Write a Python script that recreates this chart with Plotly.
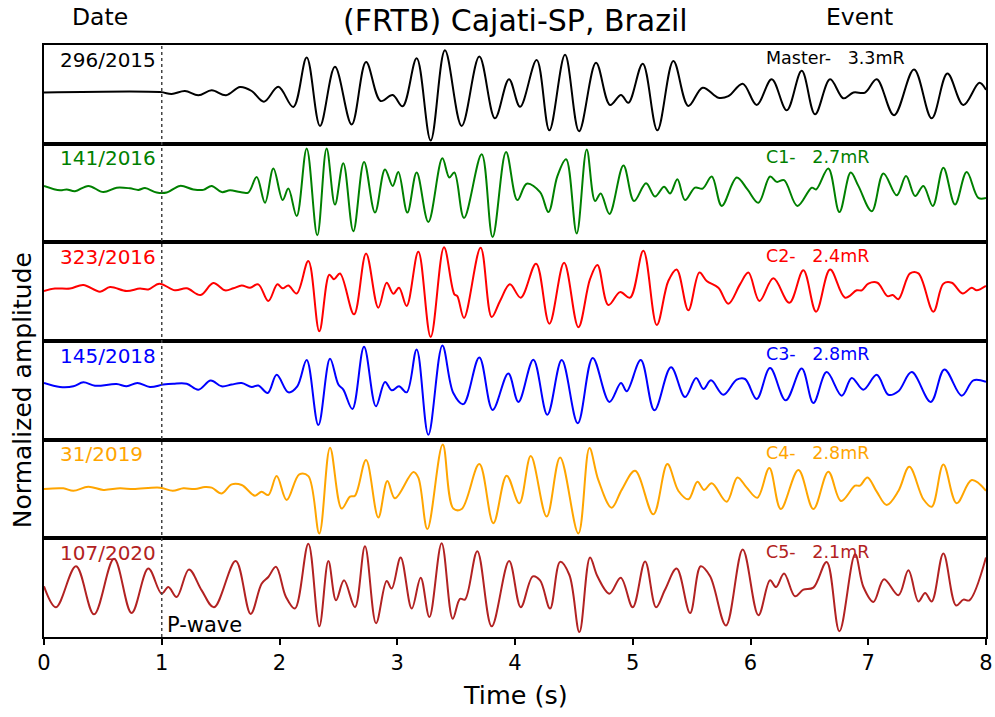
import plotly.graph_objects as go
from plotly.subplots import make_subplots

# picked peaks/troughs (time in s, normalized amplitude per panel)
master_t = [0.0, 0.985, 1.084, 1.197, 1.311, 1.424, 1.546, 1.665, 1.764, 1.868, 1.99, 2.117, 2.231, 2.344,
            2.471, 2.613, 2.735, 2.859, 2.961, 3.046, 3.165, 3.284, 3.405, 3.547, 3.697, 3.83, 3.949, 4.043,
            4.184, 4.292, 4.425, 4.544, 4.688, 4.807, 4.9, 4.963, 5.085, 5.209, 5.345, 5.472, 5.594, 5.727,
            5.812, 5.934, 6.053, 6.18, 6.308, 6.435, 6.548, 6.676, 6.789, 6.874, 6.973, 7.072, 7.219, 7.389,
            7.539, 7.672, 7.808, 7.944, 8.0]
master_a = [0.04, 0.05, 0.01, 0.075, -0.02, 0.09, -0.02, 0.165, 0.075, -0.165, 0.17, -0.285, 0.83, -0.71,
            0.62, -0.68, 0.73, -0.15, -0.015, -0.27, 0.81, -1.04, 0.99, -0.71, 0.85, -0.54, 0.34, -0.28,
            0.77, -0.81, 0.89, -0.83, 0.71, -0.24, -0.015, -0.19, 0.69, -0.81, 0.75, -0.26, 0.15, -0.075,
            -0.04, 0.24, -0.24, 0.34, -0.36, 0.53, -0.45, 0.34, -0.09, 0.04, 0.04, 0.34, -0.47, 0.56,
            -0.54, 0.47, -0.24, 0.26, 0.1]

c1_t = [0.0, 0.136, 0.193, 0.263, 0.377, 0.504, 0.617, 0.73, 0.801, 0.858, 0.957, 1.042, 1.155, 1.268,
        1.353, 1.424, 1.509, 1.58, 1.665, 1.735, 1.806, 1.877, 1.948, 2.027, 2.075, 2.146, 2.231, 2.321,
        2.4, 2.471, 2.542, 2.627, 2.718, 2.811, 2.896, 2.961, 3.009, 3.086, 3.165, 3.264, 3.383, 3.442,
        3.485, 3.567, 3.717, 3.81, 3.924, 4.02, 4.1, 4.213, 4.284, 4.36, 4.434, 4.524, 4.609, 4.68,
        4.728, 4.802, 4.921, 5.011, 5.113, 5.189, 5.266, 5.317, 5.379, 5.444, 5.529, 5.594, 5.671, 5.756,
        5.883, 5.974, 6.067, 6.166, 6.223, 6.285, 6.398, 6.52, 6.557, 6.661, 6.755, 6.851, 6.916, 7.03,
        7.129, 7.242, 7.321, 7.398, 7.468, 7.548, 7.638, 7.737, 7.836, 7.935, 8.0]
c1_a = [0.16, 0.06, 0.08, 0.04, 0.16, 0.02, 0.12, 0.105, 0.07, 0.11, 0.01, 0.01, 0.16, 0.08,
        0.07, 0.16, 0.02, 0.06, 0.02, 0.01, 0.36, -0.22, 0.55, -0.16, 0.10, -0.52, 1.0, -0.95,
        1.0, -0.26, 0.67, -0.86, 0.70, -0.44, 0.53, 0.16, 0.47, -0.44, 0.46, -0.65, 0.78, 0.35,
        0.46, -0.56, 0.87, -0.99, 0.92, -0.16, 0.21, 0.02, -0.43, 0.38, 0.76, -0.91, 0.98, -0.18,
        -0.01, -0.47, 0.62, -0.18, 0.22, -0.08, 0.14, -0.01, 0.31, -0.16, 0.12, 0.10, 0.37, -0.29,
        0.35, 0.08, -0.22, 0.37, 0.25, 0.29, -0.29, 0.12, 0.08, 0.55, -0.43, 0.46, 0.16, -0.41,
        0.44, -0.05, 0.38, -0.07, 0.16, -0.29, 0.57, -0.26, 0.47, -0.11, -0.11]

c2_t = [0.0, 0.093, 0.221, 0.334, 0.476, 0.561, 0.702, 0.815, 0.886, 0.979, 1.113, 1.212, 1.33, 1.438,
        1.537, 1.608, 1.679, 1.75, 1.82, 1.905, 1.982, 2.027, 2.075, 2.146, 2.245, 2.338, 2.423, 2.463,
        2.514, 2.633, 2.735, 2.839, 2.91, 2.967, 3.015, 3.08, 3.179, 3.284, 3.397, 3.485, 3.51, 3.567,
        3.708, 3.802, 3.873, 3.957, 4.049, 4.179, 4.292, 4.417, 4.538, 4.637, 4.7, 4.793, 4.892, 4.977,
        5.09, 5.204, 5.302, 5.373, 5.472, 5.566, 5.628, 5.727, 5.812, 5.911, 5.982, 6.076, 6.194, 6.33,
        6.449, 6.557, 6.676, 6.803, 6.902, 6.945, 7.001, 7.078, 7.163, 7.208, 7.256, 7.355, 7.426, 7.553,
        7.638, 7.709, 7.802, 7.879, 7.921, 8.0]
c2_a = [0.015, 0.07, 0.07, 0.15, 0.0, 0.105, 0.015, 0.07, 0.05, 0.18, 0.03, 0.075, -0.075, 0.195,
        0.03, 0.075, 0.14, 0.09, 0.165, -0.21, 0.165, 0.075, 0.14, -0.04, 0.69, -0.89, 0.38, 0.28,
        0.41, -0.51, 0.86, -0.36, 0.2, -0.045, 0.09, -0.32, 0.9, -1.02, 1.0, -0.06, -0.1, -0.59,
        0.99, -0.57, -0.21, 0.165, -0.135, 0.63, -0.72, 0.65, -0.80, 0.28, 0.60, -0.30, -0.01, -0.135,
        0.92, -0.75, 0.24, 0.50, -0.42, 0.43, 0.24, 0.09, -0.27, 0.165, 0.43, -0.21, 0.30, -0.25,
        0.48, -0.45, 0.50, -0.135, 0.03, 0.03, 0.18, 0.2, -0.1, -0.075, -0.17, 0.41, 0.41, -0.45,
        0.18, 0.2, -0.04, 0.09, 0.03, 0.13]

c3_t = [0.0, 0.136, 0.25, 0.334, 0.433, 0.617, 0.702, 0.793, 0.9, 1.013, 1.098, 1.212, 1.311, 1.416,
        1.509, 1.594, 1.679, 1.764, 1.82, 1.9, 1.976, 2.075, 2.151, 2.231, 2.33, 2.429, 2.5, 2.542,
        2.619, 2.718, 2.819, 2.896, 2.953, 3.015, 3.08, 3.165, 3.264, 3.383, 3.476, 3.561, 3.697, 3.81,
        3.943, 4.029, 4.156, 4.275, 4.397, 4.533, 4.66, 4.802, 4.9, 4.949, 5.068, 5.184, 5.325, 5.444,
        5.538, 5.6, 5.665, 5.77, 5.883, 5.954, 6.053, 6.166, 6.299, 6.435, 6.534, 6.647, 6.775, 6.86,
        6.959, 7.072, 7.171, 7.256, 7.369, 7.531, 7.647, 7.794, 7.893, 8.0]
c3_a = [0.165, 0.075, 0.09, 0.18, 0.105, 0.14, 0.09, 0.165, 0.075, 0.13, 0.15, 0.15, 0.015, 0.22,
        0.09, 0.13, 0.165, 0.075, 0.11, -0.06, 0.35, -0.045, 0.09, 0.68, -0.78, 0.71, 0.13, 0.015,
        -0.42, 0.98, -0.36, 0.19, 0.0, 0.09, -0.045, 0.92, -1.0, 1.01, -0.06, -0.31, 0.74, -0.44,
        0.38, -0.26, 0.69, -0.55, 0.68, -0.74, 0.73, -0.26, 0.165, -0.02, 0.68, -0.45, 0.52, -0.15,
        0.28, 0.03, 0.225, -0.1, 0.24, 0.255, -0.195, 0.50, -0.225, 0.49, -0.285, 0.41, -0.12, 0.28,
        0.015, 0.35, -0.1, -0.02, 0.41, -0.26, 0.47, -0.12, 0.225, 0.19]

c4_t = [0.0, 0.164, 0.249, 0.376, 0.504, 0.645, 0.759, 0.985, 1.093, 1.183, 1.282, 1.367, 1.424, 1.509,
        1.594, 1.679, 1.792, 1.848, 1.905, 1.976, 2.061, 2.168, 2.245, 2.338, 2.429, 2.528, 2.599, 2.641,
        2.735, 2.839, 2.916, 2.981, 3.137, 3.179, 3.256, 3.386, 3.476, 3.547, 3.697, 3.816, 3.929, 4.037,
        4.134, 4.269, 4.383, 4.538, 4.632, 4.708, 4.821, 4.906, 5.02, 5.175, 5.294, 5.388, 5.473, 5.549,
        5.606, 5.671, 5.798, 5.889, 5.968, 6.058, 6.16, 6.257, 6.407, 6.534, 6.661, 6.769, 6.888, 6.93,
        6.993, 7.072, 7.157, 7.256, 7.349, 7.468, 7.539, 7.638, 7.751, 7.879, 8.0]
c4_a = [0.0, 0.015, -0.04, 0.05, -0.02, 0.015, 0.0, 0.03, -0.04, 0.015, 0.0, 0.045, 0.03, -0.1,
        0.105, 0.09, -0.15, -0.06, -0.135, 0.29, -0.25, 0.33, 0.29, -1.0, 0.93, -0.44, -0.17, -0.15,
        0.65, -0.64, 0.18, -0.21, 0.38, 0.255, -0.90, 1.0, -0.44, -0.45, 0.56, -0.77, 0.30, -0.32,
        0.74, -0.62, 0.71, -1.0, 0.92, 0.2, -0.42, -0.02, 0.41, -0.57, 0.56, -0.045, -0.23, 0.165,
        -0.02, 0.13, -0.285, 0.26, 0.03, -0.195, 0.47, -0.45, 0.43, -0.45, 0.39, -0.27, 0.075, 0.075,
        0.26, -0.06, -0.36, -0.045, 0.50, -0.23, -0.40, 0.55, -0.32, 0.2, -0.04]

c5_t = [0.0, 0.102, 0.272, 0.425, 0.595, 0.744, 0.886, 0.999, 1.056, 1.127, 1.231, 1.339, 1.444, 1.628,
        1.755, 1.848, 1.905, 1.97, 2.055, 2.131, 2.245, 2.338, 2.415, 2.48, 2.548, 2.641, 2.726, 2.82,
        2.91, 2.953, 3.029, 3.123, 3.199, 3.273, 3.377, 3.471, 3.533, 3.575, 3.68, 3.802, 3.95, 4.049,
        4.151, 4.213, 4.298, 4.383, 4.462, 4.547, 4.637, 4.7, 4.802, 4.898, 5.0, 5.105, 5.198, 5.274,
        5.373, 5.487, 5.577, 5.657, 5.792, 5.934, 6.067, 6.166, 6.217, 6.285, 6.378, 6.449, 6.534, 6.647,
        6.755, 6.888, 6.959, 7.044, 7.134, 7.256, 7.341, 7.426, 7.483, 7.539, 7.638, 7.746, 7.808, 7.859,
        8.0]
c5_a = [0.03, -0.44, 0.48, -0.60, 0.65, -0.57, 0.43, -0.135, 0.015, -0.21, 0.41, -0.06, -0.44, 0.60,
        -0.59, 0.09, 0.24, 0.47, -0.21, -0.47, 0.99, -0.87, 0.60, -0.285, 0.165, -0.44, 0.93, -0.80,
        0.15, -0.02, 0.68, -0.47, 0.225, -0.66, 1.0, -0.70, -0.25, -0.27, 0.82, -0.87, 0.60, -0.44,
        0.255, 0.165, -0.47, 0.58, 0.285, -1.0, 0.68, 0.255, -0.135, 0.225, -0.44, 0.59, -0.44, -0.045,
        0.43, -0.57, 0.48, 0.255, -0.85, 0.86, -0.62, 0.165, 0.015, 0.32, -0.195, -0.045, 0.0, 0.58,
        -0.98, 0.75, 0.015, -0.32, 0.19, -0.17, 0.39, -0.31, -0.12, -0.31, 0.77, -0.40, -0.27, -0.285,
        0.68]

dates = ["296/2015", "141/2016", "323/2016", "145/2018", "31/2019", "107/2020"]
events = ["Master-", "C1-", "C2-", "C3-", "C4-", "C5-"]
magnitudes = ["3.3mR", "2.7mR", "2.4mR", "2.8mR", "2.8mR", "2.1mR"]
colors = ["black", "green", "red", "blue", "orange", "firebrick"]
times = [master_t, c1_t, c2_t, c3_t, c4_t, c5_t]
amps = [master_a, c1_a, c2_a, c3_a, c4_a, c5_a]

font = "DejaVu Sans"
fig = make_subplots(rows=6, cols=1, shared_xaxes=True, vertical_spacing=0)

for i in range(6):
    row = i + 1
    fig.add_trace(go.Scatter(x=times[i], y=amps[i], mode="lines",
                             line=dict(color=colors[i], width=2, shape="spline", smoothing=1),
                             showlegend=False, hoverinfo="skip"), row=row, col=1)
    fig.add_annotation(x=0.12, y=0.78, text=dates[i], showarrow=False, xanchor="left",
                       yanchor="middle", font=dict(family=font, size=20, color=colors[i]),
                       row=row, col=1)
    fig.add_annotation(x=6.115, y=0.81, text=events[i] + "\u00a0\u00a0 " + magnitudes[i],
                       showarrow=False, xanchor="left", yanchor="middle",
                       font=dict(family=font, size=17.5, color=colors[i]), row=row, col=1)
    fig.update_yaxes(range=[-1.11, 1.11], showticklabels=False, ticks="", showgrid=False,
                     zeroline=False, showline=True, mirror=True, linecolor="black", linewidth=1.5,
                     automargin=False, row=row, col=1)

fig.update_xaxes(range=[0, 8], showgrid=False, zeroline=False, showline=True, mirror=True,
                 linecolor="black", linewidth=1.5, ticks="", automargin=False,
                 tickfont=dict(family=font, size=21))
fig.update_xaxes(ticks="outside", ticklen=6, tickwidth=1.5, tickcolor="black", dtick=1,
                 row=6, col=1)

# P-wave arrival marker
fig.add_shape(type="line", x0=1, x1=1, y0=0, y1=1, xref="x", yref="paper",
              line=dict(color="#444", width=1.5, dash="dot"))
fig.add_annotation(x=1.03, y=-0.83, text="P-wave", showarrow=False, xanchor="left",
                   yanchor="middle", font=dict(family=font, size=21, color="black"), row=6, col=1)

fig.add_annotation(x=0.5, y=1.0, xref="paper", yref="paper", yshift=25, xanchor="center",
                   yanchor="middle", text="(FRTB) Cajati-SP, Brazil", showarrow=False,
                   font=dict(family=font, size=30, color="black"))
fig.add_annotation(x=0.059, y=1.0, xref="paper", yref="paper", yshift=28, xanchor="center",
                   yanchor="middle", text="Date", showarrow=False,
                   font=dict(family=font, size=23.5, color="black"))
fig.add_annotation(x=0.866, y=1.0, xref="paper", yref="paper", yshift=28, xanchor="center",
                   yanchor="middle", text="Event", showarrow=False,
                   font=dict(family=font, size=23.5, color="black"))
fig.add_annotation(x=0, y=0.417, xref="paper", yref="paper", xshift=-22, xanchor="center",
                   yanchor="middle", text="Normalized amplitude", textangle=-90, showarrow=False,
                   font=dict(family=font, size=25, color="black"))
fig.add_annotation(x=0.5, y=0, xref="paper", yref="paper", yshift=-58, xanchor="center",
                   yanchor="middle", text="Time (s)", showarrow=False,
                   font=dict(family=font, size=25.5, color="black"))

fig.update_layout(width=995, height=717, margin=dict(l=44, r=9, t=45, b=80),
                  plot_bgcolor="white", paper_bgcolor="white", font=dict(family=font, color="black"))

# drop the default page margin so the figure sits at the window's top-left corner
fig.write_html("out.html", config={"displayModeBar": False},
               post_script="document.body.style.margin = '0px';")
